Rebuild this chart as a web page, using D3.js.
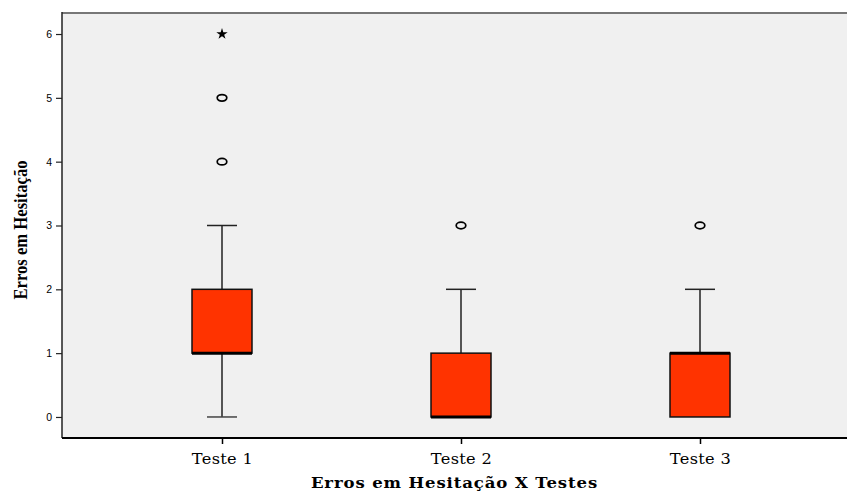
<!DOCTYPE html>
<html><head><meta charset="utf-8">
<script src="https://cdn.jsdelivr.net/npm/d3@7"></script>
<style>body{margin:0;background:#fff}svg{display:block}</style>
</head><body>
<script>
const categories = ["Teste 1", "Teste 2", "Teste 3"];
const mins = [0, 0, 0];
const q1s = [1, 0, 0];
const medians = [1, 0, 1];
const q3s = [2, 1, 1];
const maxs = [3, 2, 2];
const outliers = [[4, 5], [3], [3]];
const extremes = [[6], [], []];
const yTicks = [0, 1, 2, 3, 4, 5, 6];

const W = 848, H = 493;
const L = 62, R = 847, T = 12, B = 438;
const svg = d3.select("body").append("svg").attr("width", W).attr("height", H);

const y = d3.scaleLinear().domain([-0.3295, 6.345]).range([B, T]);
const x = d3.scalePoint().domain(categories).range([222, 700]);

svg.append("rect").attr("x", L).attr("y", T).attr("width", R - L).attr("height", B - T).attr("fill", "#f0f0f0");
svg.append("line").attr("x1", L).attr("x2", R).attr("y1", T + 1).attr("y2", T + 1).attr("stroke", "#777").attr("stroke-width", 2);

const yAxis = svg.append("g").attr("transform", `translate(${L},0)`)
  .call(d3.axisLeft(y).tickValues(yTicks).tickSize(6).tickPadding(4).tickFormat(d3.format("d")));
yAxis.select(".domain").remove();
yAxis.append("line").attr("x1", 0).attr("x2", 0).attr("y1", T).attr("y2", B).attr("stroke", "#222").attr("stroke-width", 1.5);
yAxis.selectAll(".tick line").attr("stroke", "#222").attr("stroke-width", 1.2);
yAxis.selectAll(".tick text").attr("font-family", "Liberation Sans, Arial, sans-serif").attr("font-size", 10.5).attr("fill", "#000");

const xAxis = svg.append("g").attr("transform", `translate(0,${B})`)
  .call(d3.axisBottom(x).tickSize(6).tickPadding(8));
xAxis.select(".domain").remove();
xAxis.append("line").attr("x1", L).attr("x2", R).attr("y1", 0).attr("y2", 0).attr("stroke", "#000").attr("stroke-width", 2);
xAxis.selectAll(".tick line").attr("stroke", "#000").attr("stroke-width", 1.5);
xAxis.selectAll(".tick text").attr("font-family", "DejaVu Serif, serif").attr("font-size", 15).attr("fill", "#000")
  .attr("dy", null).attr("y", 26).attr("transform", "scale(1.08,1)").attr("letter-spacing", 0.3);

const boxW = 60, capW = 30;
categories.forEach((c, i) => {
  const cx = x(c);
  const g = svg.append("g");
  if (maxs[i] > q3s[i]) {
    g.append("line").attr("x1", cx).attr("x2", cx).attr("y1", y(q3s[i])).attr("y2", y(maxs[i])).attr("stroke", "#222").attr("stroke-width", 1.5);
  }
  g.append("line").attr("x1", cx - capW / 2).attr("x2", cx + capW / 2).attr("y1", y(maxs[i])).attr("y2", y(maxs[i])).attr("stroke", "#222").attr("stroke-width", 1.5);
  if (mins[i] < q1s[i]) {
    g.append("line").attr("x1", cx).attr("x2", cx).attr("y1", y(q1s[i])).attr("y2", y(mins[i])).attr("stroke", "#222").attr("stroke-width", 1.5);
    g.append("line").attr("x1", cx - capW / 2).attr("x2", cx + capW / 2).attr("y1", y(mins[i])).attr("y2", y(mins[i])).attr("stroke", "#444").attr("stroke-width", 1.5);
  }
  g.append("rect").attr("x", cx - boxW / 2).attr("y", y(q3s[i])).attr("width", boxW).attr("height", y(q1s[i]) - y(q3s[i]))
    .attr("fill", "#ff3300").attr("stroke", "#111").attr("stroke-width", 1.5);
  g.append("line").attr("x1", cx - boxW / 2).attr("x2", cx + boxW / 2).attr("y1", y(medians[i])).attr("y2", y(medians[i])).attr("stroke", "#000").attr("stroke-width", 3);
  outliers[i].forEach(v => {
    g.append("ellipse").attr("cx", cx).attr("cy", y(v)).attr("rx", 4.8).attr("ry", 3.3).attr("fill", "none").attr("stroke", "#000").attr("stroke-width", 1.7);
  });
  extremes[i].forEach(v => {
    g.append("path").attr("transform", `translate(${cx},${y(v)})`).attr("d", d3.symbol(d3.symbolStar, 40)()).attr("fill", "#000");
  });
});

svg.append("text").attr("transform", `translate(${(L + R) / 2},488) scale(1.18,1)`).attr("text-anchor", "middle")
  .attr("font-family", "DejaVu Serif, serif").attr("font-weight", "bold").attr("font-size", 14).attr("fill", "#000")
  .attr("letter-spacing", 0.75)
  .text("Erros em Hesitação X Testes");

svg.append("text").attr("transform", `translate(26.5,${(T + B) / 2 + 5}) rotate(-90) scale(0.9,1)`).attr("text-anchor", "middle")
  .attr("font-family", "Liberation Serif, serif").attr("font-weight", "bold").attr("font-size", 18.5).attr("fill", "#000")
  .text("Erros em Hesitação");
</script>
</body></html>
